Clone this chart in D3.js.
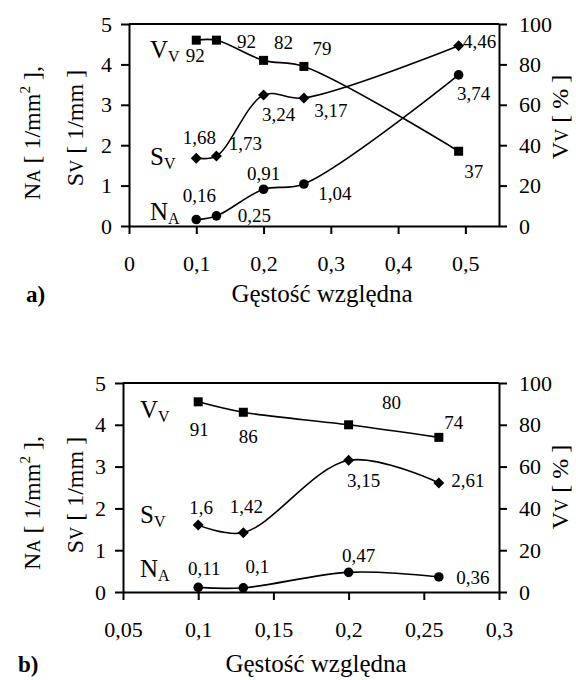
<!DOCTYPE html>
<html><head><meta charset="utf-8">
<script src="https://cdn.jsdelivr.net/npm/d3@7"></script>
<style>
body{margin:0;background:#fff}
svg{display:block}
svg text{font-family:'Liberation Serif', Tinos, 'Times New Roman', Times, 'DejaVu Serif', serif !important;fill:#000}
</style>
</head><body>
<svg id="chart" width="576" height="680"></svg>
<script>
// ---------- data ----------
const densityA = [0.1, 0.13, 0.2, 0.26, 0.49];
const naA = [0.16, 0.25, 0.91, 1.04, 3.74];
const svA = [1.68, 1.73, 3.24, 3.17, 4.46];
const vvA = [92, 92, 82, 79, 37];
const naLabelsA = ["0,16", "0,25", "0,91", "1,04", "3,74"];
const svLabelsA = ["1,68", "1,73", "3,24", "3,17", "4,46"];
const vvLabelsA = ["92", "92", "82", "79", "37"];
const xTicksA = [0, 0.1, 0.2, 0.3, 0.4, 0.5];

const densityB = [0.1, 0.13, 0.2, 0.26];
const naB = [0.11, 0.1, 0.47, 0.36];
const svB = [1.6, 1.42, 3.15, 2.61];
const vvB = [91, 86, 80, 74];
const naLabelsB = ["0,11", "0,1", "0,47", "0,36"];
const svLabelsB = ["1,6", "1,42", "3,15", "2,61"];
const vvLabelsB = ["91", "86", "80", "74"];
const xTicksB = [0.05, 0.1, 0.15, 0.2, 0.25, 0.3];

const leftTicks = [0, 1, 2, 3, 4, 5];
const rightTicks = [0, 20, 40, 60, 80, 100];

// ---------- layout (kept apart from data) ----------
const panelA = {
  x0: 129, x1: 499, yTop: 24, yBot: 226, xDomain: [0, 0.55],
  offNA: [[3,-24],[38,-1],[0,-16],[31,9],[15,18]],
  offSV: [[3,-21],[29,-13],[15,19],[27,12],[21,-4]],
  offVV: [[-1,15],[30,1],[20,-18],[18,-18],[15,20]],
  nameVal: {vv: 4.16, sv: 1.51, na: 0.15}, nameDx: 21,
  leftTitleY: [133, 128], rightTitleY: 117, titleY: 302, titleX: 322, tagX: 26
};
const panelB = {
  x0: 123, x1: 499, yTop: 383, yBot: 592, xDomain: [0.05, 0.3],
  offNA: [[6,-19],[14,-21],[10,-17],[34,0]],
  offSV: [[3,-18],[3,-26],[15,20],[29,-3]],
  offVV: [[1,28],[5,24],[43,-22],[15,-15]],
  nameVal: {vv: 4.16, sv: 1.65, na: 0.36}, nameDx: 17,
  leftTitleY: [503, 495], rightTitleY: 487, titleY: 672, titleX: 316, tagX: 18
};

const FONT = "'Liberation Serif', Tinos, 'Times New Roman', Times, 'DejaVu Serif', serif";
const fmt = d => String(d).replace(".", ",");
const svg = d3.select("#chart").attr("font-family", FONT);

function drawPanel(p, dens, na, sv, vv, naL, svL, vvL, xTicks, tag) {
  const x = d3.scaleLinear().domain(p.xDomain).range([p.x0, p.x1]);
  const y = d3.scaleLinear().domain([0, 5]).range([p.yBot, p.yTop]);
  const yR = d3.scaleLinear().domain([0, 100]).range([p.yBot, p.yTop]);
  const g = svg.append("g").attr("font-family", FONT);

  // axes
  const ax = g.append("g").attr("transform", `translate(0,${p.yBot})`)
    .call(d3.axisBottom(x).tickValues(xTicks).tickFormat(fmt).tickSize(8).tickSizeOuter(0).tickPadding(21));
  const ay = g.append("g").attr("transform", `translate(${p.x0},0)`)
    .call(d3.axisLeft(y).tickValues(leftTicks).tickFormat(fmt).tickSize(8).tickSizeOuter(0).tickPadding(9));
  const ar = g.append("g").attr("transform", `translate(${p.x1},0)`)
    .call(d3.axisRight(yR).tickValues(rightTicks).tickSize(8).tickSizeOuter(0).tickPadding(12));
  [ax, ay, ar].forEach(a => {
    a.attr("font-family", FONT).attr("font-size", 22);
    a.selectAll("path,line").attr("stroke", "#000").attr("stroke-width", 2);
    a.selectAll("text").attr("font-size", 22).attr("fill", "#000");
  });
  // top frame line
  g.append("line").attr("x1", p.x0).attr("x2", p.x1).attr("y1", p.yTop).attr("y2", p.yTop)
    .attr("stroke", "#000").attr("stroke-width", 2);

  const curve = d3.curveCatmullRom.alpha(0.5);
  const series = [
    {vals: na, sc: y, shape: "circle", lab: naL, off: p.offNA},
    {vals: sv, sc: y, shape: "diamond", lab: svL, off: p.offSV},
    {vals: vv, sc: yR, shape: "square", lab: vvL, off: p.offVV}
  ];
  series.forEach(s => {
    const pts = dens.map((d, i) => [x(d), s.sc(s.vals[i])]);
    g.append("path").attr("d", d3.line().curve(curve)(pts))
      .attr("fill", "none").attr("stroke", "#000").attr("stroke-width", 1.6);
    const m = g.selectAll(null).data(pts).enter();
    if (s.shape === "circle") {
      m.append("circle").attr("cx", d => d[0]).attr("cy", d => d[1]).attr("r", 4.8).attr("fill", "#000");
    } else if (s.shape === "square") {
      m.append("rect").attr("x", d => d[0] - 4.5).attr("y", d => d[1] - 4.5)
        .attr("width", 9).attr("height", 9).attr("fill", "#000");
    } else {
      m.append("path").attr("d", d => `M${d[0]},${d[1]-5.5}L${d[0]+5.5},${d[1]}L${d[0]},${d[1]+5.5}L${d[0]-5.5},${d[1]}Z`)
        .attr("fill", "#000");
    }
    g.selectAll(null).data(pts).enter().append("text")
      .attr("x", (d, i) => d[0] + s.off[i][0]).attr("y", (d, i) => d[1] + s.off[i][1])
      .attr("dy", "0.35em").attr("text-anchor", "middle").attr("font-size", 19)
      .text((d, i) => s.lab[i]);
  });

  // series names
  const names = [["V", "V", p.nameVal.vv], ["S", "V", p.nameVal.sv], ["N", "A", p.nameVal.na]];
  names.forEach(n => {
    const t = g.append("text").attr("x", p.x0 + p.nameDx).attr("y", y(n[2])).attr("font-size", 25);
    t.append("tspan").text(n[0]);
    t.append("tspan").attr("font-size", 16).attr("dy", 4).text(n[1]);
  });

  // left axis titles
  const lt1 = g.append("text").attr("transform", `translate(40,${p.leftTitleY[0]}) rotate(-90)`)
    .attr("text-anchor", "middle").attr("font-size", 24);
  lt1.append("tspan").text("N");
  lt1.append("tspan").attr("font-size", 18).text("A");
  lt1.append("tspan").text(" [ 1/mm");
  lt1.append("tspan").attr("font-size", 15).attr("dy", -10).text("2");
  lt1.append("tspan").attr("dy", 10).text(" ],");
  const lt2 = g.append("text").attr("transform", `translate(83,${p.leftTitleY[1]}) rotate(-90)`)
    .attr("text-anchor", "middle").attr("font-size", 24);
  lt2.append("tspan").text("S");
  lt2.append("tspan").attr("font-size", 18).text("V");
  lt2.append("tspan").text(" [ 1/mm ]");
  // right axis title
  const rt = g.append("text").attr("transform", `translate(568,${p.rightTitleY}) rotate(-90)`)
    .attr("text-anchor", "middle").attr("font-size", 24);
  rt.append("tspan").text("V");
  rt.append("tspan").attr("font-size", 18).text("V");
  rt.append("tspan").text(" [ % ]");

  // x title and panel tag
  g.append("text").attr("x", p.titleX).attr("y", p.titleY).attr("text-anchor", "middle")
    .attr("font-size", 25).text("Gęstość względna");
  g.append("text").attr("x", p.tagX).attr("y", p.titleY).attr("font-size", 23)
    .attr("font-weight", "bold").text(tag);
}

drawPanel(panelA, densityA, naA, svA, vvA, naLabelsA, svLabelsA, vvLabelsA, xTicksA, "a)");
drawPanel(panelB, densityB, naB, svB, vvB, naLabelsB, svLabelsB, vvLabelsB, xTicksB, "b)");
</script>
</body></html>
